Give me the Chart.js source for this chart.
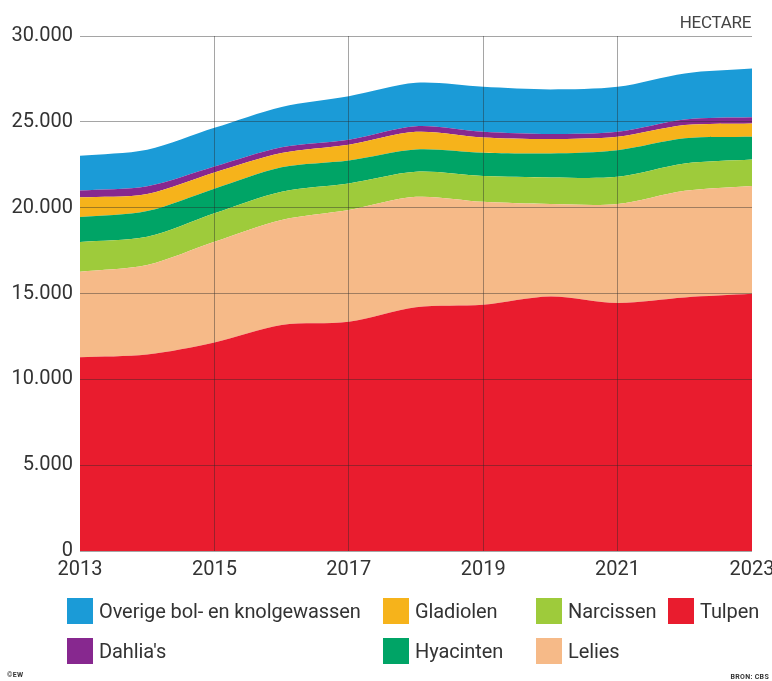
<!DOCTYPE html>
<html>
<head>
<meta charset="utf-8">
<script src="https://cdn.jsdelivr.net/npm/chart.js@4/dist/chart.umd.min.js"></script>
<style>
  html, body { margin: 0; padding: 0; background: #ffffff; }
  #wrap { position: relative; width: 772px; height: 681px; overflow: hidden; font-family: Roboto, "Noto Sans", sans-serif; color: #333; }
  #c { position: absolute; left: 0; top: 0; }
  .unit { position: absolute; right: 21px; top: 12px; font-size: 17px; color: #444; letter-spacing: -0.3px; }
  .leg { position: absolute; display: flex; align-items: center; font-size: 20px; color: #333; white-space: nowrap; letter-spacing: -0.1px; }
  .leg .box { width: 26px; height: 26px; margin-right: 6px; flex: none; }
  .tiny { position: absolute; font-size: 7px; font-weight: bold; color: #333; letter-spacing: 0.3px; }
</style>
</head>
<body>
<div id="wrap">
  <canvas id="c" width="772" height="681"></canvas>
  <div class="unit">HECTARE</div>
  <div class="tiny" style="left:7px; top:671px;">©EW</div>
  <div class="tiny" style="right:3px; top:673px;">BRON: CBS</div>
</div>
<script>
// ---- data (hectare) ----
const years = [2013, 2014, 2015, 2016, 2017, 2018, 2019, 2020, 2021, 2022, 2023];
const xTicks = [2013, 2015, 2017, 2019, 2021, 2023];
const yTicks = [0, 5000, 10000, 15000, 20000, 25000, 30000];

const tulpen    = [11290, 11450, 12150, 13160, 13350, 14200, 14350, 14830, 14450, 14770, 14980];
const lelies    = [4980, 5210, 5860, 6120, 6510, 6430, 5990, 5380, 5760, 6210, 6280];
const narcissen = [1730, 1640, 1660, 1650, 1550, 1460, 1500, 1550, 1590, 1600, 1550];
const hyacinten = [1450, 1500, 1430, 1420, 1340, 1300, 1360, 1400, 1550, 1460, 1320];
const gladiolen = [1150, 1000, 950, 830, 920, 1030, 890, 840, 780, 770, 780];
const dahlias   = [400, 450, 350, 340, 290, 330, 330, 290, 290, 330, 350];
const overige   = [2030, 2130, 2250, 2350, 2530, 2520, 2620, 2600, 2620, 2680, 2840];

// stacking order bottom -> top
const seriesNames  = ["Tulpen", "Lelies", "Narcissen", "Hyacinten", "Gladiolen", "Dahlia's", "Overige bol- en knolgewassen"];
const seriesValues = [tulpen, lelies, narcissen, hyacinten, gladiolen, dahlias, overige];
const seriesColors = ["#e91c2e", "#f6ba88", "#9ecb3b", "#00a466", "#f6b31b", "#87288f", "#1b9bd7"];

// legend layout (column-major, as in the reference)
const legendOrder = ["Overige bol- en knolgewassen", "Dahlia's", "Gladiolen", "Hyacinten", "Narcissen", "Lelies", "Tulpen"];
const legendCols = [67, 383, 536, 668];
const legendRows = [598, 638];

function fmt(v) {
  return String(v).replace(/\B(?=(\d{3})+(?!\d))/g, ".");
}

const datasets = seriesNames.map((name, i) => ({
  label: name,
  data: years.map((y, j) => ({ x: y, y: seriesValues[i][j] })),
  backgroundColor: seriesColors[i],
  borderColor: seriesColors[i],
  borderWidth: 0,
  pointRadius: 0,
  fill: i === 0 ? "origin" : "-1",
  tension: 0.3
}));

const gridCol = "rgba(40,40,40,0.42)";

new Chart(document.getElementById("c"), {
  type: "line",
  data: { datasets },
  options: {
    responsive: false,
    animation: false,
    events: [],
    layout: { padding: { left: 0, right: 20, top: 36, bottom: 98 } },
    plugins: { legend: { display: false }, tooltip: { enabled: false } },
    scales: {
      x: {
        type: "linear",
        min: 2013, max: 2023,
        border: { display: false },
        afterBuildTicks: (s) => { s.ticks = xTicks.map(v => ({ value: v })); },
        afterFit: (s) => { s.height = 32; s.paddingLeft = 0; s.paddingRight = 0; },
        grid: {
          z: 1,
          drawTicks: false,
          lineWidth: 1,
          color: (ctx) => (ctx.tick && (ctx.tick.value === 2013 || ctx.tick.value === 2023)) ? "rgba(0,0,0,0)" : gridCol
        },
        ticks: {
          padding: 7,
          color: "#333",
          font: { family: "Roboto", size: 20 },
          callback: (v) => String(v),
          maxRotation: 0, autoSkip: false
        }
      },
      y: {
        stacked: true,
        min: 0, max: 30000,
        border: { display: false },
        afterBuildTicks: (s) => { s.ticks = yTicks.map(v => ({ value: v })); },
        afterFit: (s) => { s.width = 80; },
        grid: {
          z: 1,
          drawTicks: false,
          lineWidth: 1,
          color: gridCol
        },
        ticks: {
          padding: 7,
          color: "#333",
          font: { family: "Roboto", size: 20 },
          callback: (v) => fmt(v)
        }
      }
    }
  }
});

// HTML legend built from the series arrays
const wrap = document.getElementById("wrap");
legendOrder.forEach((name, k) => {
  const i = seriesNames.indexOf(name);
  let col, row;
  if (k < 2) { col = 0; row = k; }
  else if (k < 4) { col = 1; row = k - 2; }
  else if (k < 6) { col = 2; row = k - 4; }
  else { col = 3; row = 0; }
  const el = document.createElement("div");
  el.className = "leg";
  el.style.left = legendCols[col] + "px";
  el.style.top = legendRows[row] + "px";
  el.innerHTML = '<span class="box" style="background:' + seriesColors[i] + '"></span><span></span>';
  el.lastChild.textContent = name;
  wrap.appendChild(el);
});
</script>
</body>
</html>
